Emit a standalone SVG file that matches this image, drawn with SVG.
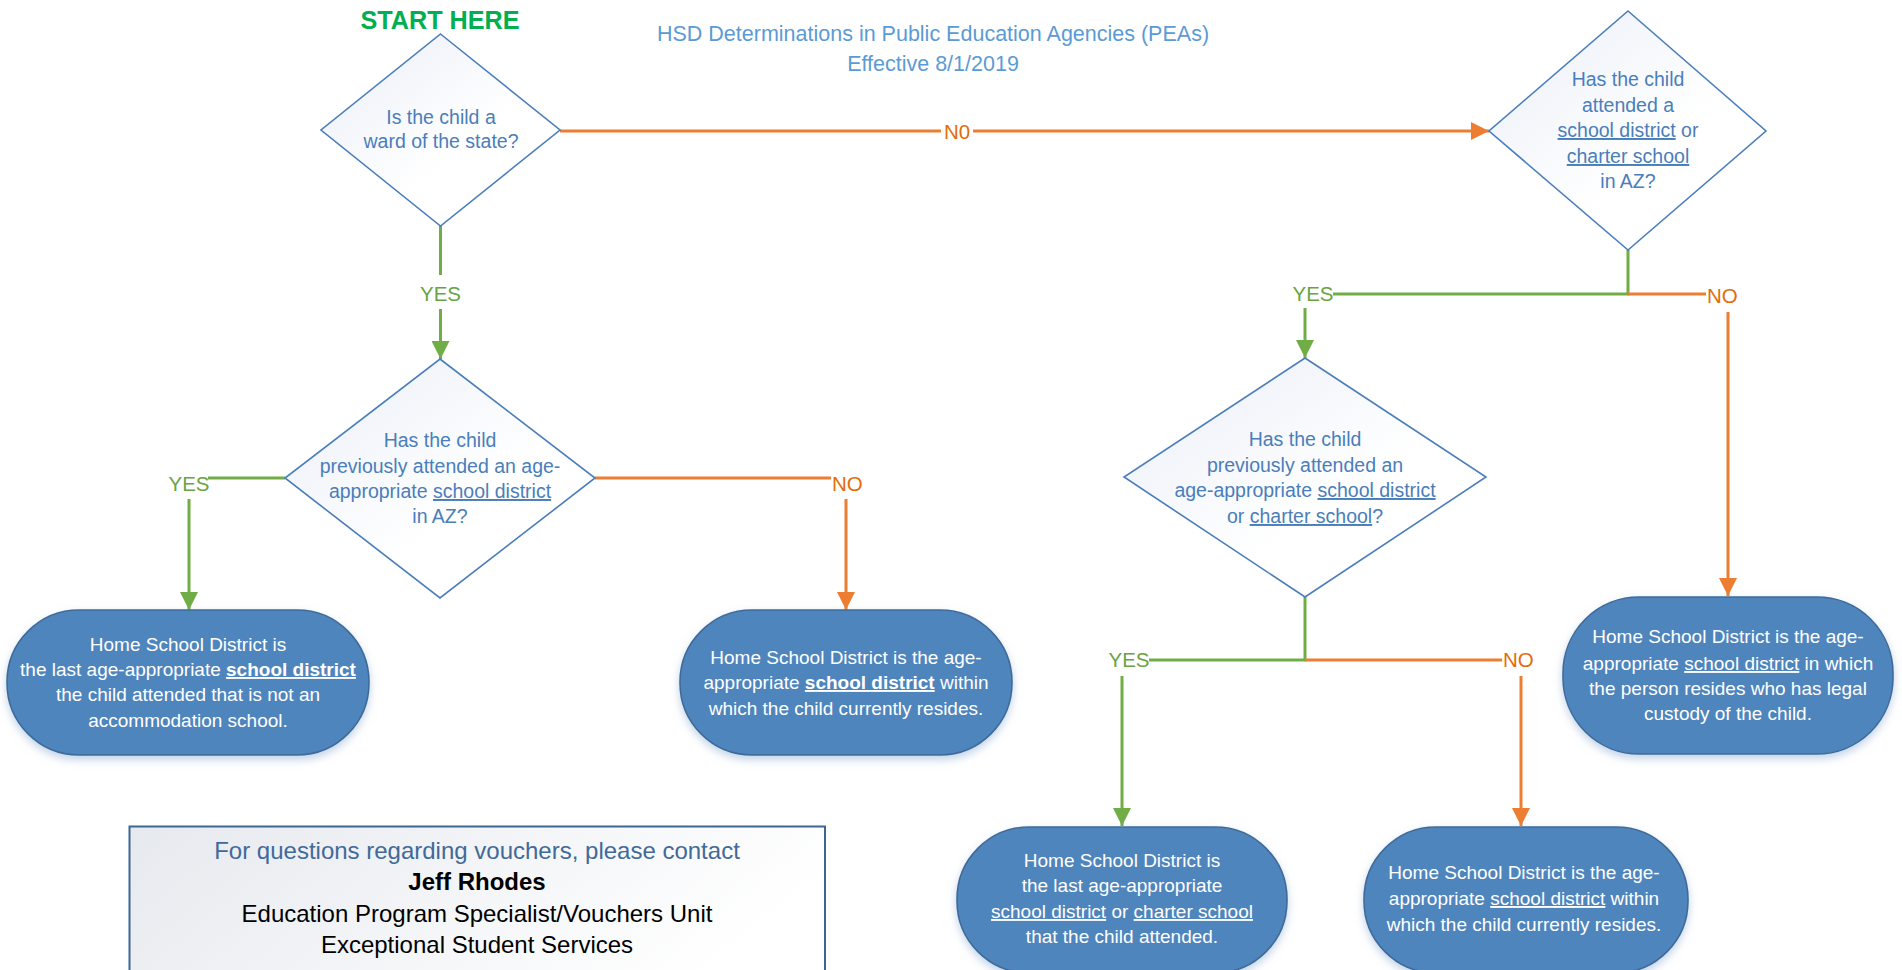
<svg xmlns="http://www.w3.org/2000/svg" width="1902" height="970" viewBox="0 0 1902 970">
<defs>
  <linearGradient id="dg" x1="0" y1="0" x2="1" y2="1">
    <stop offset="0" stop-color="#E9EEF7"/>
    <stop offset="0.6" stop-color="#FFFFFF"/>
  </linearGradient>
  <linearGradient id="bg" x1="0" y1="0" x2="1" y2="0.3">
    <stop offset="0" stop-color="#E6E9EE"/>
    <stop offset="1" stop-color="#FFFFFF"/>
  </linearGradient>
  <filter id="sh" x="-10%" y="-10%" width="120%" height="130%">
    <feDropShadow dx="0" dy="4" stdDeviation="4" flood-color="#8FAED3" flood-opacity="0.55"/>
  </filter>
  <marker id="ag" viewBox="0 0 18 18" refX="18" refY="9" markerWidth="18" markerHeight="18" markerUnits="userSpaceOnUse" orient="auto">
    <path d="M0,0 L18,9 L0,18 Z" fill="#70AD47"/>
  </marker>
  <marker id="ao" viewBox="0 0 18 18" refX="18" refY="9" markerWidth="18" markerHeight="18" markerUnits="userSpaceOnUse" orient="auto">
    <path d="M0,0 L18,9 L0,18 Z" fill="#ED7D31"/>
  </marker>
  <style>
    text { font-family: "Liberation Sans", Arial, sans-serif; }
    .dia { fill: url(#dg); stroke: #4A7EBB; stroke-width: 1.6; }
    .dt { font-size: 19.5px; fill: #4A7EBB; text-anchor: middle; }
    .term { fill: #4F85BD; stroke: #3E6B9B; stroke-width: 1.6; filter: url(#sh); }
    .tt { font-size: 19px; fill: #FFFFFF; text-anchor: middle; }
    .u { text-decoration: underline; }
    .b { font-weight: bold; }
    .g { stroke: #70AD47; stroke-width: 3; fill: none; }
    .o { stroke: #ED7D31; stroke-width: 3; fill: none; }
    .lg { font-size: 20.5px; fill: #6AA342; }
    .lo { font-size: 20.5px; fill: #E36C0A; }
    .ct { font-size: 24px; text-anchor: middle; fill: #000000; }
  </style>
</defs>
<rect width="1902" height="970" fill="#FFFFFF"/>

<g id="title">
  <text x="440" y="29" font-size="26" font-weight="bold" fill="#00B050" text-anchor="middle" textLength="159" lengthAdjust="spacingAndGlyphs">START HERE</text>
  <text x="933" y="41" font-size="21.5" fill="#5B9BD5" text-anchor="middle">HSD Determinations in Public Education Agencies (PEAs)</text>
  <text x="933" y="71" font-size="21.5" fill="#5B9BD5" text-anchor="middle">Effective 8/1/2019</text>
</g>

<g id="connectors">
  <line class="o" x1="560" y1="131" x2="941" y2="131"/>
  <line class="o" x1="973" y1="131" x2="1489" y2="131" marker-end="url(#ao)"/>
  <text class="lo" x="957" y="139" text-anchor="middle">N0</text>

  <line class="g" x1="440.5" y1="226" x2="440.5" y2="275"/>
  <text class="lg" x="440.5" y="301" text-anchor="middle">YES</text>
  <line class="g" x1="440.5" y1="309" x2="440.5" y2="359" marker-end="url(#ag)"/>

  <line class="g" x1="285" y1="478" x2="208" y2="478"/>
  <text class="lg" x="189" y="491" text-anchor="middle">YES</text>
  <line class="g" x1="189" y1="499" x2="189" y2="610" marker-end="url(#ag)"/>

  <line class="o" x1="595" y1="478" x2="831" y2="478"/>
  <text class="lo" x="832" y="491">NO</text>
  <line class="o" x1="846" y1="499" x2="846" y2="610" marker-end="url(#ao)"/>

  <polyline class="g" points="1628,250 1628,294 1333,294"/>
  <text class="lg" x="1313" y="301" text-anchor="middle">YES</text>
  <line class="g" x1="1305" y1="308" x2="1305" y2="358" marker-end="url(#ag)"/>
  <line class="o" x1="1628" y1="294" x2="1706" y2="294"/>
  <text class="lo" x="1707" y="303">NO</text>
  <line class="o" x1="1728" y1="312" x2="1728" y2="596" marker-end="url(#ao)"/>

  <polyline class="g" points="1305,597 1305,660 1149,660"/>
  <text class="lg" x="1129" y="667" text-anchor="middle">YES</text>
  <line class="g" x1="1122" y1="676" x2="1122" y2="826" marker-end="url(#ag)"/>
  <line class="o" x1="1305" y1="660" x2="1502" y2="660"/>
  <text class="lo" x="1503" y="667">NO</text>
  <line class="o" x1="1521" y1="676" x2="1521" y2="826" marker-end="url(#ao)"/>
</g>

<g id="d1">
  <polygon class="dia" points="440.5,34 560,130 440.5,226 321,130"/>
  <text class="dt" x="441" y="124">Is the child a</text>
  <text class="dt" x="441" y="148">ward of the state?</text>
</g>

<g id="d2">
  <polygon class="dia" points="440,359 595,478 440,598 285,478"/>
  <text class="dt" x="440" y="447">Has the child</text>
  <text class="dt" x="440" y="473">previously attended an age-</text>
  <text class="dt" x="440" y="498">appropriate <tspan class="u">school district</tspan></text>
  <text class="dt" x="440" y="523">in AZ?</text>
</g>

<g id="d3">
  <polygon class="dia" points="1628,11 1766,131 1628,250 1489,131"/>
  <text class="dt" x="1628" y="86">Has the child</text>
  <text class="dt" x="1628" y="112">attended a</text>
  <text class="dt" x="1628" y="137"><tspan class="u"> school district</tspan> or</text>
  <text class="dt" x="1628" y="163"><tspan class="u">charter school</tspan></text>
  <text class="dt" x="1628" y="188">in AZ?</text>
</g>

<g id="d4">
  <polygon class="dia" points="1305,358 1486,477 1305,597 1124,477"/>
  <text class="dt" x="1305" y="446">Has the child</text>
  <text class="dt" x="1305" y="472">previously attended an</text>
  <text class="dt" x="1305" y="497">age-appropriate <tspan class="u">school district</tspan></text>
  <text class="dt" x="1305" y="523">or <tspan class="u">charter school</tspan>?</text>
</g>

<g id="t1">
  <rect class="term" x="7" y="610" width="362" height="145" rx="72" ry="72"/>
  <text class="tt" x="188" y="651">Home School District is</text>
  <text class="tt" x="188" y="676">the last age-appropriate <tspan class="u b">school district</tspan></text>
  <text class="tt" x="188" y="701">the child attended that is not an</text>
  <text class="tt" x="188" y="727">accommodation school.</text>
</g>

<g id="t2">
  <rect class="term" x="680" y="610" width="332" height="145" rx="72" ry="72"/>
  <text class="tt" x="846" y="664">Home School District is the age-</text>
  <text class="tt" x="846" y="689">appropriate <tspan class="u b">school district</tspan> within</text>
  <text class="tt" x="846" y="715">which the child currently resides.</text>
</g>

<g id="t5">
  <rect class="term" x="1563" y="597" width="330" height="157" rx="76" ry="76"/>
  <text class="tt" x="1728" y="643">Home School District is the age-</text>
  <text class="tt" x="1728" y="670">appropriate <tspan class="u">school district</tspan> in which</text>
  <text class="tt" x="1728" y="695">the person resides who has legal</text>
  <text class="tt" x="1728" y="720">custody of the child.</text>
</g>

<g id="t3">
  <rect class="term" x="957" y="827" width="330" height="146" rx="72" ry="72"/>
  <text class="tt" x="1122" y="867">Home School District is</text>
  <text class="tt" x="1122" y="892">the last age-appropriate</text>
  <text class="tt" x="1122" y="918"><tspan class="u">school district</tspan> or <tspan class="u">charter school</tspan></text>
  <text class="tt" x="1122" y="943">that the child attended.</text>
</g>

<g id="t4">
  <rect class="term" x="1364" y="827" width="324" height="146" rx="72" ry="72"/>
  <text class="tt" x="1524" y="879">Home School District is the age-</text>
  <text class="tt" x="1524" y="905">appropriate <tspan class="u">school district</tspan> within</text>
  <text class="tt" x="1524" y="931">which the child currently resides.</text>
</g>

<g id="contact">
  <rect x="129.5" y="826.5" width="695.5" height="170" fill="url(#bg)" stroke="#3D6691" stroke-width="2"/>
  <text class="ct" x="477" y="859" fill="#41699A" style="fill:#41699A">For questions regarding vouchers, please contact</text>
  <text class="ct" x="477" y="890" font-weight="bold">Jeff Rhodes</text>
  <text class="ct" x="477" y="922">Education Program Specialist/Vouchers Unit</text>
  <text class="ct" x="477" y="953">Exceptional Student Services</text>
</g>
</svg>
